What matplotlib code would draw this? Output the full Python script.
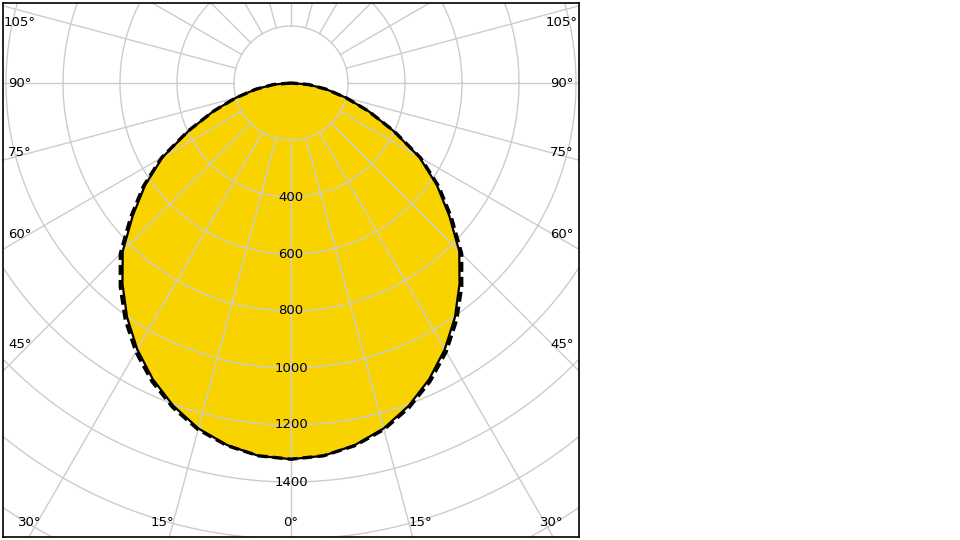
import numpy as np
import matplotlib
matplotlib.use("Agg")
import matplotlib.pyplot as plt
from matplotlib.patches import Polygon

angles = [0, 5, 10, 15, 20, 25, 30, 35, 40, 45, 50, 55, 60, 65, 70, 75, 80, 85, 90]
c0 = [1320, 1313, 1290, 1255, 1206, 1147, 1079, 1003, 920, 835, 725, 625, 520, 395, 290, 200, 125, 62, 0]
c90 = [1320, 1313, 1292, 1259, 1212, 1155, 1089, 1014, 932, 847, 735, 633, 525, 398, 290, 200, 125, 62, 0]
radial_ticks = [400, 600, 800, 1000, 1200, 1400]
edge_labels = [105, 90, 75, 60, 45]
bottom_labels = [30, 15, 0]

S = 0.285  # px per cd
fig = plt.figure(figsize=(9.6, 5.4), dpi=100)
ax = fig.add_axes([3/960, 3/540, 576/960, 534/540])
ax.set_xlim(-288/S, 288/S)
ax.set_ylim(-454/S, 80/S)
ax.set_aspect('auto')
ax.set_xticks([]); ax.set_yticks([])
for s in ax.spines.values():
    s.set_linewidth(1.2); s.set_color('black')

gc = '#cccccc'
t = np.linspace(0, 2*np.pi, 400)

def draw_grid(z, clip=None):
    lines = []
    for r in range(200, 2200, 200):
        lines += ax.plot(r*np.cos(t), r*np.sin(t), color=gc, lw=1, zorder=z)
    for a in range(0, 360, 15):
        th = np.radians(a)
        lines += ax.plot([200*np.sin(th), 3000*np.sin(th)], [-200*np.cos(th), -3000*np.cos(th)],
                         color=gc, lw=1, zorder=z)
    if clip is not None:
        for ln in lines:
            ln.set_clip_path(clip)

def curve(vals):
    a = np.radians(angles)
    v = np.array(vals, float)
    full_a = np.concatenate([-a[::-1], a[1:]])
    full_v = np.concatenate([v[::-1], v[1:]])
    return full_v*np.sin(full_a), -full_v*np.cos(full_a)

x0, y0 = curve(c0)
x9, y9 = curve(c90)
draw_grid(1)
ax.fill(x0, y0, color='#f9d300', zorder=2)
poly = Polygon(np.column_stack([x0, y0]), closed=True, transform=ax.transData)
draw_grid(3, clip=poly)
ax.plot(x9, y9, color='black', lw=2.4, ls=(0, (3, 1.5)), zorder=4)
ax.plot(x0, y0, color='black', lw=1.6, zorder=5)

for r in radial_ticks:
    ax.text(0, -r, str(r), ha='center', va='center', fontsize=9.5, zorder=6)

# label positions (pixel offsets from origin converted to data units)
edge_y = {105: 61, 90: 0, 75: -69, 60: -151, 45: -261}
bottom_x = {30: 261, 15: 129, 0: 0}
for a in edge_labels:
    for sgn in (-1, 1):
        ax.text(sgn*271/S, edge_y[a]/S, f"{a}°", ha='center', va='center', fontsize=9.5, zorder=6)
for a in bottom_labels:
    for sgn in ((-1, 1) if a else (1,)):
        ax.text(sgn*bottom_x[a]/S, -439/S, f"{a}°", ha='center', va='center', fontsize=9.5, zorder=6)

fig.savefig("out.png", dpi=100)
